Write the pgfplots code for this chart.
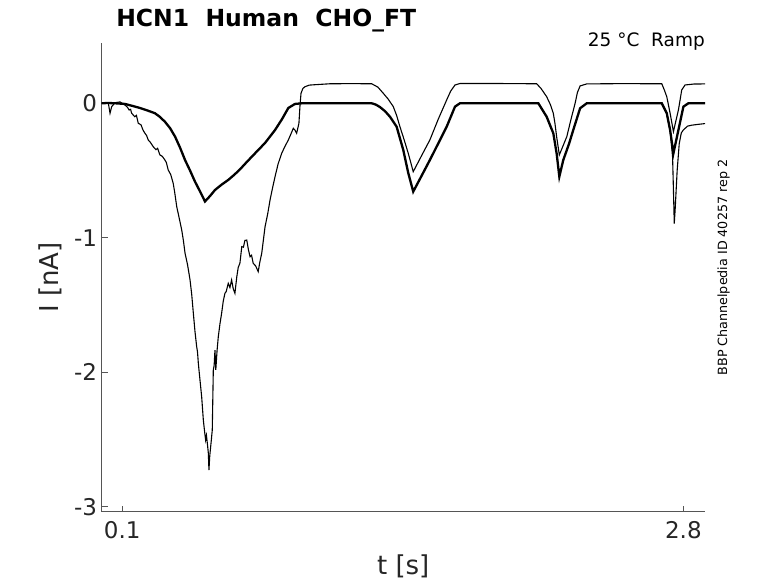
\documentclass[border=0pt]{standalone}
\usepackage{fontspec}
\setmainfont{DejaVu Sans}
\usepackage{pgfplots}
\pgfplotsset{compat=1.18}
\definecolor{mgray}{HTML}{262626}
\definecolor{agray}{HTML}{555555}
\begin{document}
\begin{tikzpicture}
\path[use as bounding box] (0,0) rectangle (778pt,583pt);
\begin{axis}[
  at={(101.5pt,71.3pt)}, anchor=south west,
  scale only axis, width=603.5pt, height=468.4pt,
  xmin=0, xmax=2.904, ymin=-3.037, ymax=0.446,
  axis x line*=bottom, axis y line*=left,
  xtick={0.1,2.8}, xticklabels={0.1,2.8},
  ytick={-3,-2,-1,0}, yticklabels={-3,-2,-1,0},
  tick align=inside, major tick length=6pt,
  tick style={agray, line width=0.8pt},
  axis line style={agray, line width=0.8pt},
  ticklabel style={font=\fontsize{23}{27}\selectfont, text=mgray},
  xticklabel style={yshift=-6pt},
  yticklabel style={xshift=-1pt},
  xlabel={t [s]}, ylabel={I [nA]},
  every axis x label/.style={at={(axis description cs:0.5,-0.135)}, anchor=base, font=\fontsize{26}{30}\selectfont, text=mgray},
  every axis y label/.style={at={(axis description cs:-0.085,0.5)}, anchor=center, rotate=90, font=\fontsize{26}{30}\selectfont, text=mgray},
  clip=false,
]
% thin trace (deep first dip, baseline ~0.145)
\addplot[black, line width=1.1pt] coordinates {
(0.001,0) (0.033,0) (0.041,-0.074) (0.049,-0.025) (0.065,0.004) (0.089,0.01)
(0.113,-0.013) (0.125,-0.03) (0.133,-0.05) (0.140,-0.045) (0.145,-0.074) (0.160,-0.10) (0.168,-0.09) (0.177,-0.149)
(0.190,-0.16) (0.200,-0.20) (0.209,-0.223) (0.217,-0.24) (0.225,-0.273) (0.235,-0.29) (0.249,-0.323)
(0.262,-0.345) (0.270,-0.335) (0.281,-0.384) (0.293,-0.395) (0.305,-0.422) (0.312,-0.44) (0.321,-0.496)
(0.333,-0.53) (0.345,-0.595) (0.352,-0.66) (0.362,-0.769) (0.372,-0.84) (0.386,-0.942)
(0.394,-1.02) (0.402,-1.115) (0.414,-1.20) (0.426,-1.313) (0.434,-1.42) (0.442,-1.562)
(0.450,-1.70) (0.458,-1.810) (0.462,-1.85) (0.466,-1.934) (0.474,-2.06) (0.482,-2.182)
(0.490,-2.355) (0.496,-2.44) (0.501,-2.504) (0.505,-2.47) (0.511,-2.554) (0.514,-2.60) (0.517,-2.727)
(0.521,-2.62) (0.527,-2.528) (0.533,-2.430) (0.538,-1.983) (0.542,-1.95) (0.546,-1.835) (0.550,-1.983)
(0.556,-1.84) (0.562,-1.736) (0.570,-1.64) (0.578,-1.562) (0.586,-1.47) (0.594,-1.413) (0.600,-1.40)
(0.610,-1.339) (0.618,-1.37) (0.626,-1.314) (0.634,-1.38) (0.642,-1.413) (0.651,-1.290)
(0.658,-1.22) (0.666,-1.190) (0.675,-1.066) (0.683,-1.07) (0.690,-1.02) (0.699,-1.017)
(0.707,-1.09) (0.715,-1.141) (0.722,-1.13) (0.730,-1.190) (0.742,-1.21) (0.754,-1.252)
(0.762,-1.18) (0.771,-1.115) (0.787,-0.918) (0.800,-0.82) (0.811,-0.719) (0.823,-0.63)
(0.835,-0.546) (0.850,-0.45) (0.867,-0.372) (0.883,-0.32) (0.899,-0.273) (0.911,-0.23)
(0.923,-0.186) (0.931,-0.20) (0.939,-0.223) (0.950,-0.149) (0.955,-0.02) (0.960,0.074)
(0.969,0.11) (0.979,0.123) (1.000,0.135) (1.027,0.138) (1.099,0.145) (1.200,0.146) (1.300,0.145)
(1.330,0.12) (1.356,0.074) (1.380,0.03) (1.404,-0.025) (1.420,-0.09) (1.436,-0.174) (1.456,-0.27)
(1.476,-0.372) (1.488,-0.44) (1.500,-0.509)
(1.540,-0.39) (1.580,-0.273) (1.620,-0.12) (1.661,0.025) (1.680,0.09) (1.701,0.136) (1.725,0.147)
(1.900,0.147) (2.094,0.145) (2.115,0.11) (2.142,0.049) (2.160,-0.01) (2.174,-0.074) (2.182,-0.15) (2.190,-0.248) (2.203,-0.384)
(2.220,-0.32) (2.239,-0.248) (2.259,-0.12) (2.279,0) (2.290,0.08) (2.303,0.129) (2.335,0.144)
(2.500,0.146) (2.696,0.145) (2.708,0.10) (2.720,0.049) (2.736,-0.074) (2.745,-0.15) (2.752,-0.211)
(2.764,-0.13) (2.776,-0.050) (2.792,0.099) (2.808,0.136) (2.850,0.143) (2.904,0.144)
};
% thick trace (baseline 0)
\addplot[black, line width=2.3pt] coordinates {
(0.001,0) (0.031,0.002) (0.065,0) (0.113,-0.005) (0.150,-0.02) (0.185,-0.035) (0.220,-0.053) (0.257,-0.074)
(0.280,-0.10) (0.305,-0.137) (0.330,-0.185) (0.354,-0.248) (0.378,-0.33) (0.402,-0.422) (0.426,-0.50)
(0.450,-0.583) (0.474,-0.655) (0.498,-0.730)
(0.522,-0.69) (0.546,-0.645) (0.578,-0.605) (0.610,-0.570) (0.640,-0.530) (0.666,-0.492) (0.700,-0.435)
(0.739,-0.372) (0.787,-0.295) (0.835,-0.199) (0.869,-0.117) (0.899,-0.035) (0.931,-0.005) (0.965,0)
(1.100,0) (1.300,0) (1.320,-0.01) (1.340,-0.028) (1.365,-0.06) (1.388,-0.100) (1.420,-0.174) (1.452,-0.347)
(1.476,-0.518) (1.500,-0.657) (1.540,-0.54) (1.580,-0.422) (1.620,-0.30) (1.661,-0.174) (1.701,-0.025)
(1.725,0) (1.900,0) (2.094,0) (2.102,0) (2.142,-0.100) (2.174,-0.223) (2.190,-0.372) (2.203,-0.546)
(2.222,-0.422) (2.250,-0.30) (2.270,-0.199) (2.303,-0.037) (2.335,0) (2.500,0) (2.696,0)
(2.720,-0.074) (2.736,-0.199) (2.752,-0.372) (2.776,-0.199) (2.800,-0.025) (2.824,0) (2.904,0)
};
% third trace, visible apart only in the last step
\addplot[black, line width=1.1pt] coordinates {
(2.600,0) (2.696,0) (2.720,-0.074) (2.736,-0.199) (2.748,-0.40) (2.753,-0.70) (2.756,-0.894)
(2.760,-0.80) (2.770,-0.50) (2.780,-0.30) (2.790,-0.22) (2.800,-0.198) (2.820,-0.170)
(2.840,-0.163) (2.870,-0.157) (2.904,-0.151)
};
\node[anchor=base west, font=\bfseries\fontsize{23.5}{28}\selectfont, text=black] at (axis description cs:0.0186,1.0354) {HCN1\ \ Human\ \ CHO\_FT};
\node[anchor=base east, font=\fontsize{18.5}{22}\selectfont, text=black, inner sep=0pt] at (axis description cs:1.0,0.9927) {25 °C\ \ Ramp};
\node[anchor=base, rotate=90, font=\fontsize{12.7}{15}\selectfont, text=black, inner sep=0pt] at (axis description cs:1.0365,0.5213) {BBP Channelpedia ID 40257 rep 2};
\end{axis}
\end{tikzpicture}
\end{document}
